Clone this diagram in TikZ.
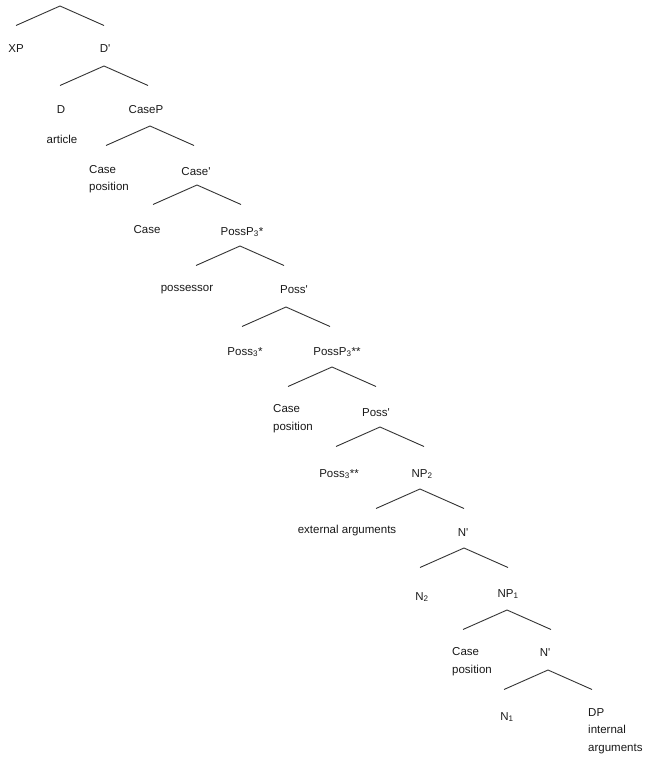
\documentclass[tikz,border=0pt]{standalone}
\usepackage{fontspec}
\setmainfont{Liberation Sans}
\begin{document}
\begin{tikzpicture}[x=1pt,y=-1pt,
  lab/.style={inner sep=0pt,font=\fontsize{11.5}{17.5}\selectfont,text=black!90},
  labl/.style={lab,align=left,anchor=west},
  br/.style={draw=black!80,line width=0.9pt}]
\useasboundingbox (0,0) rectangle (645,757);
% apex coordinates and branch ends
\foreach \i/\x/\y in {1/60/6,2/104/66,3/150/126,4/197/185,5/240/246,6/286/307,7/332/367,8/380/427,9/420/489,10/464/548,11/507/610,12/548/670}{
  \coordinate (a\i) at (\x,\y);
  \coordinate (l\i) at (\x-44,\y+19.5);
  \coordinate (r\i) at (\x+44,\y+19.5);
}
\foreach \i in {1,...,12}{ \draw[br] (l\i) -- (a\i) -- (r\i); }
% labels
\node[lab] (xp) at (16,49) {XP};
\node[lab] (dbar) at (105,49) {D\textquotesingle};
\node[lab] (d) at (61,110) {D};
\node[lab] (casep) at (146,110) {CaseP};
\node[lab] (article) at (62,139) {article};
\node[labl] (cpos1) at (89,179) {Case\\position};
\node[lab] (casebar) at (196,172) {Case\textquotesingle};
\node[lab] (case) at (147,230) {Case};
\node[lab] (possp1) at (242,232) {PossP\textsubscript{3}*};
\node[lab] (possessor) at (187,290) {possessor};
\node[lab] (possbar1) at (294,290) {Poss\textquotesingle};
\node[lab] (poss1) at (245,352) {Poss\textsubscript{3}*};
\node[lab] (possp2) at (337,352) {PossP\textsubscript{3}**};
\node[labl] (cpos2) at (273,418.5) {Case\\position};
\node[lab] (possbar2) at (376,413) {Poss\textquotesingle};
\node[lab] (poss2) at (339,474) {Poss\textsubscript{3}**};
\node[lab] (np2) at (422,474) {NP\textsubscript{2}};
\node[lab] (ext) at (347,531) {external arguments};
\node[lab] (nbar1) at (463,533) {N\textquotesingle};
\node[lab] (n2) at (422,597) {N\textsubscript{2}};
\node[lab] (np1) at (508,594) {NP\textsubscript{1}};
\node[labl] (cpos3) at (452,661.5) {Case\\position};
\node[lab] (nbar2) at (545,653) {N\textquotesingle};
\node[lab] (n1) at (507,717) {N\textsubscript{1}};
\node[labl] (dp) at (588,731) {DP\\internal\\arguments};
\end{tikzpicture}
\end{document}
